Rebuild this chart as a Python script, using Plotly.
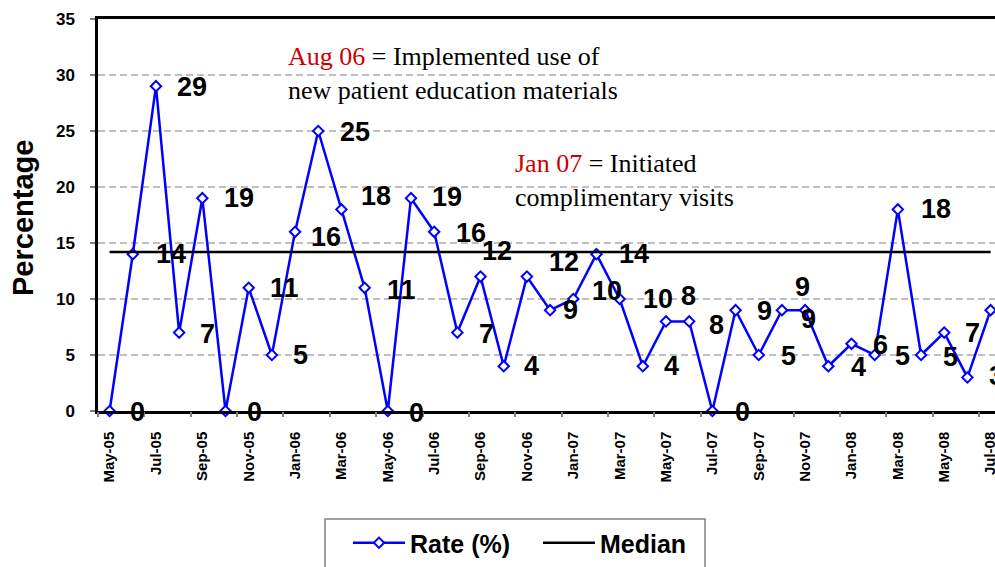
import plotly.graph_objects as go

months = ["May-05","Jun-05","Jul-05","Aug-05","Sep-05","Oct-05","Nov-05","Dec-05",
          "Jan-06","Feb-06","Mar-06","Apr-06","May-06","Jun-06","Jul-06","Aug-06",
          "Sep-06","Oct-06","Nov-06","Dec-06","Jan-07","Feb-07","Mar-07","Apr-07",
          "May-07","Jun-07","Jul-07","Aug-07","Sep-07","Oct-07","Nov-07","Dec-07",
          "Jan-08","Feb-08","Mar-08","Apr-08","May-08","Jun-08","Jul-08"]
rate = [0, 14, 29, 7, 19, 0, 11, 5,
        16, 25, 18, 11, 0, 19, 16, 7,
        12, 4, 12, 9, 10, 14, 10, 4,
        8, 8, 0, 9, 5, 9, 9, 4,
        6, 5, 18, 5, 7, 3, 9]
median_value = 14.2

# label offsets (px, right / down) of the data labels relative to their points
label_dx = [28, 38, 36, 28, 37, 29, 36, 29, 31, 37, 35, 37, 29, 36, 37, 29,
            16, 28, 37, 20, 34, 38, 38, 29, 22, 27, 30, 29, 30, 21, 3, 30,
            29, 28, 38, 29, 28, 29, 28]
label_dy = [1, 0, 1, 1, 0, 1, 0, 0, 5, 1, -13, 2, 2, -1, 1, 1,
            -26, 0, -15, 0, -8, 0, 0, 0, -25, 4, 1, 1, 1, -23, 9, 1,
            1, 1, 0, 2, 0, -1, 0]

x_idx = list(range(len(months)))

W, H = 995, 567
L, R, T, B = 98, 0, 19, 156
pw = W - L - R
ph = H - T - B

def px_x(px):
    return (px - L) / pw

def px_y(py):
    return (H - B - py) / ph

fig = go.Figure()
fig.add_trace(go.Scatter(
    x=x_idx, y=rate, name="Rate (%)", mode="lines+markers",
    line=dict(color="#0000ff", width=2.5),
    marker=dict(symbol="diamond", size=8, color="white",
                line=dict(color="#0000ff", width=2)),
    cliponaxis=False,
))
fig.add_trace(go.Scatter(
    x=x_idx, y=[median_value] * len(x_idx), name="Median", mode="lines",
    line=dict(color="black", width=2.5),
))
# invisible trace for boundary tick marks on xaxis2
fig.add_trace(go.Scatter(x=[0], y=[0], xaxis="x2", showlegend=False,
                         mode="markers", marker=dict(opacity=0), hoverinfo="skip"))

for i, (v, dx, dy) in enumerate(zip(rate, label_dx, label_dy)):
    fig.add_annotation(x=i, y=v, xref="x", yref="y", text=str(v), showarrow=False,
                       xshift=dx, yshift=-dy,
                       font=dict(family="Liberation Sans", size=27, color="black", weight="bold"))

red = "#cc0000"
fig.add_annotation(xref="paper", yref="paper", x=px_x(286), y=px_y(73),
                   xanchor="left", yanchor="middle", align="left", showarrow=False,
                   text=f'<span style="color:{red}">Aug 06</span> = Implemented use of<br>new patient education materials',
                   font=dict(family="Liberation Serif", size=26, color="black"))
fig.add_annotation(xref="paper", yref="paper", x=px_x(513), y=px_y(181),
                   xanchor="left", yanchor="middle", align="left", showarrow=False,
                   text=f'<span style="color:{red}">Jan 07</span> = Initiated<br>complimentary visits',
                   font=dict(family="Liberation Serif", size=26, color="black"))
fig.add_annotation(xref="paper", yref="paper", x=px_x(23), y=px_y(218),
                   xanchor="center", yanchor="middle", textangle=-90, showarrow=False,
                   text="Percentage",
                   font=dict(family="Liberation Sans", size=29, color="black", weight="bold"))

# legend box
fig.add_shape(type="rect", xref="paper", yref="paper",
              x0=px_x(325), x1=px_x(705), y0=px_y(519), y1=px_y(600),
              line=dict(color="#808080", width=1.5), fillcolor="white", layer="below")

fig.update_layout(
    width=W, height=H,
    margin=dict(l=L, r=R, t=T, b=B, autoexpand=False),
    paper_bgcolor="white", plot_bgcolor="white",
    font=dict(family="Liberation Sans", color="black"),
    showlegend=True,
    legend=dict(orientation="h", x=px_x(348), y=px_y(543), xanchor="left", yanchor="middle",
                bgcolor="rgba(0,0,0,0)", borderwidth=0, itemwidth=52, entrywidth=123,
                font=dict(family="Liberation Sans", size=25, color="black", weight="bold"),
                traceorder="normal"),
    xaxis=dict(range=[-0.5, 38.19], tickmode="array", tickvals=x_idx[::2],
               ticktext=months[::2], tickangle=-90, ticks="", showgrid=False,
               zeroline=False, showline=True, linecolor="black", linewidth=2.5,
               mirror=True, ticklabelstandoff=12, ticklabeloverflow="allow",
               tickfont=dict(family="Liberation Sans", size=15, color="black", weight="bold")),
    xaxis2=dict(overlaying="x", matches="x", anchor="y", side="bottom",
                tickmode="array", tickvals=[-0.5 + 2 * k for k in range(20)],
                ticks="outside", ticklen=5, tickwidth=1.5, tickcolor="#808080",
                showticklabels=False, showgrid=False, zeroline=False, showline=False),
    yaxis=dict(range=[0, 35], tickmode="linear", tick0=0, dtick=5,
               ticks="outside", ticklen=5, tickwidth=1.5, tickcolor="#808080",
               showline=True, linecolor="black", linewidth=2.5,
               showgrid=True, gridcolor="#bfbfbf", gridwidth=2, griddash="7px,4px",
               zeroline=False, ticklabelstandoff=12,
               tickfont=dict(family="Liberation Sans", size=17, color="black", weight="bold")),
)

fig.write_html("out.html", config={"displayModeBar": False},
               post_script="document.body.style.margin='0';document.body.style.overflow='hidden';")
